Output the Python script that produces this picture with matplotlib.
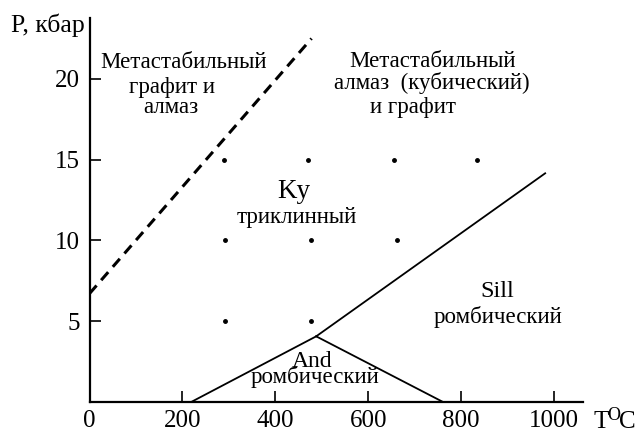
import matplotlib
matplotlib.use('Agg')
import matplotlib.pyplot as plt

# ---- phase diagram data (T in deg C, P in kbar) ----
graphite_T = [0, 478]          # metastable graphite/diamond boundary (dashed)
graphite_P = [6.7, 22.5]
ky_and_T = [220, 488]
ky_and_P = [0, 4.05]
and_sill_T = [488, 760]
and_sill_P = [4.05, 0]
ky_sill_T = [488, 981]
ky_sill_P = [4.05, 14.15]

dots_T = [290, 470, 655, 835, 292, 476, 661, 292, 476]
dots_P = [15, 15, 15, 15, 10, 10, 10, 5, 5]

x_ticks = [0, 200, 400, 600, 800, 1000]
y_ticks = [5, 10, 15, 20]

plt.rcParams['font.family'] = ['Liberation Serif', 'DejaVu Serif']

fig = plt.figure(figsize=(6.35, 4.32), dpi=100)
ax = fig.add_axes([0.141, 0.0701, 0.7775, 0.8882])
ax.set_xlim(0, 1063)
ax.set_ylim(0, 23.77)

for s in ['top', 'right']:
    ax.spines[s].set_visible(False)
for s in ['left', 'bottom']:
    ax.spines[s].set_linewidth(1.6)

ax.set_xticks(x_ticks)
ax.set_yticks(y_ticks)
ax.tick_params(direction='in', length=8, width=1.2, labelsize=18)
ax.tick_params(axis='x', pad=6)
ax.tick_params(axis='y', pad=7)

ax.plot(graphite_T, graphite_P, color='black', lw=2.2, linestyle=(0, (3.5, 2.3)))
ax.plot(ky_and_T, ky_and_P, color='black', lw=1.3)
ax.plot(and_sill_T, and_sill_P, color='black', lw=1.3)
ax.plot(ky_sill_T, ky_sill_P, color='black', lw=1.3)
ax.plot(dots_T, dots_P, 'o', color='black', ms=2.5)

big = 16.5
ax.text(203, 20.66, 'Метастабильный', fontsize=big, ha='center', va='baseline')
ax.text(177, 19.15, 'графит и', fontsize=big, ha='center', va='baseline')
ax.text(176, 17.87, 'алмаз', fontsize=big, ha='center', va='baseline')

ax.text(738, 20.76, 'Метастабильный', fontsize=big, ha='center', va='baseline')
ax.text(738, 19.36, 'алмаз  (кубический)', fontsize=big, ha='center', va='baseline')
ax.text(697, 17.87, 'и графит', fontsize=big, ha='center', va='baseline')

ax.text(440, 12.6, 'Ky', fontsize=19.5, ha='center', va='baseline')
ax.text(446, 11.05, 'триклинный', fontsize=big, ha='center', va='baseline')

ax.text(877, 6.47, 'Sill', fontsize=17.5, ha='center', va='baseline')
ax.text(880, 4.86, 'ромбический', fontsize=big, ha='center', va='baseline')

ax.text(479, 2.17, 'And', fontsize=17, ha='center', va='baseline')
ax.text(485, 1.14, 'ромбический', fontsize=big, ha='center', va='baseline')

# axis names
fig.text(85 / 635, 1 - 31.7 / 432, 'P, кбар', fontsize=18.5, ha='right', va='baseline')
fig.text(593 / 635, 1 - 428.3 / 432, 'T', fontsize=18, ha='left', va='baseline')
fig.text(607 / 635, 1 - 420.5 / 432, 'O', fontsize=13, ha='left', va='baseline')
fig.text(619.5 / 635, 1 - 428.3 / 432, 'C', fontsize=18, ha='left', va='baseline')

fig.savefig('out.png', dpi=100)
